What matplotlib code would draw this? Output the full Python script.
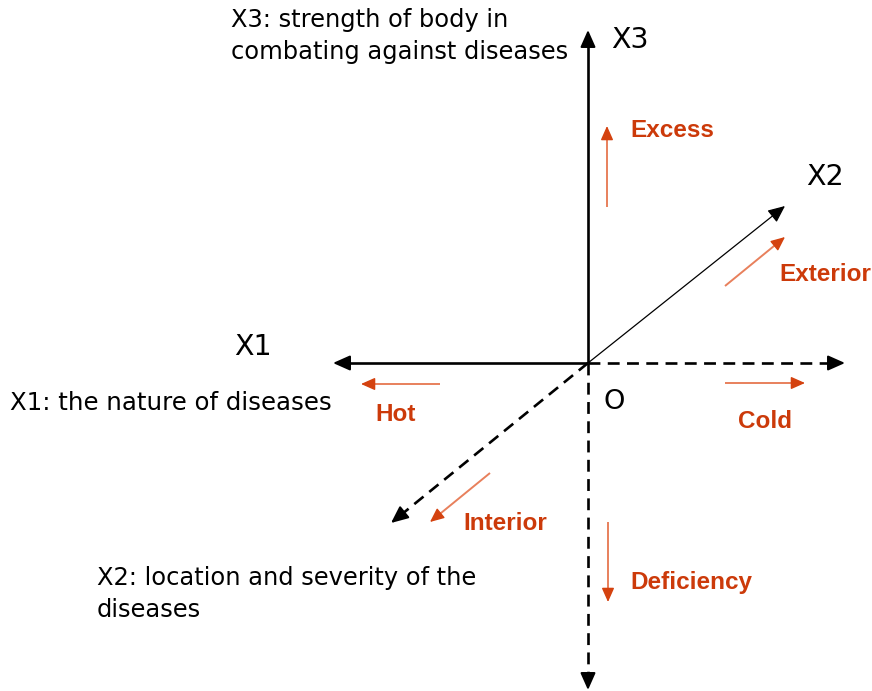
import matplotlib
matplotlib.use("Agg")
import matplotlib.pyplot as plt

plt.rcParams['font.family'] = ['DejaVu Sans']

# Diagram geometry (pixel space of the reference)
origin = (588, 363)
# black axes: (end point, dashed?, linewidth)
axis_ends = [(588, 30), (588, 690), (333, 363), (845, 363), (785, 206), (391, 523)]
axis_dashed = [False, True, False, True, False, True]
axis_lw = [1.9, 1.9, 1.9, 1.9, 0.9, 1.9]

# red direction arrows: start, end
red_starts = [(607, 207), (725, 286), (440, 384), (725, 383), (490, 473), (608, 522)]
red_ends = [(607, 126), (785, 237), (361, 384), (805, 383), (430, 522), (608, 602)]
red_labels = ["Excess", "Exterior", "Hot", "Cold", "Interior", "Deficiency"]
red_label_pos = [(630, 130), (779, 274), (375, 414), (738, 421), (463, 523), (630, 582)]

black_labels = ["X3: strength of body in\ncombating against diseases", "X3", "X1",
                "X1: the nature of diseases", "O", "X2",
                "X2: location and severity of the\ndiseases"]
black_label_pos = [(231, 8), (611, 26), (234, 333), (10, 391), (603, 389), (806, 163), (97, 566)]
black_label_size = [17.4, 20.5, 20.5, 17.6, 19.5, 20.5, 17.4]

fig = plt.figure(figsize=(8.72, 6.91), dpi=100)
ax = fig.add_axes([0, 0, 1, 1])
ax.set_xlim(0, 872)
ax.set_ylim(691, 0)
ax.axis('off')


def unit(p, q):
    dx, dy = q[0] - p[0], q[1] - p[1]
    L = (dx ** 2 + dy ** 2) ** 0.5
    return dx / L, dy / L


for (ex, ey), dashed, lw in zip(axis_ends, axis_dashed, axis_lw):
    ux, uy = unit(origin, (ex, ey))
    sx, sy = ex - ux * 7, ey - uy * 7
    ax.plot([origin[0], sx], [origin[1], sy], color='black', lw=lw,
            linestyle=(0, (4.5, 2.8)) if dashed else '-', solid_capstyle='butt',
            dash_capstyle='butt')
    bx, by = ex - ux * 12, ey - uy * 12
    ax.annotate('', xy=(ex, ey), xytext=(bx, by),
                arrowprops=dict(arrowstyle='-|>,head_length=0.9,head_width=0.4',
                                color='black', lw=min(lw, 1.5), shrinkA=0, shrinkB=0,
                                mutation_scale=11.5))

for (sx, sy), (ex, ey) in zip(red_starts, red_ends):
    ux, uy = unit((sx, sy), (ex, ey))
    ax.plot([sx, ex - ux * 6], [sy, ey - uy * 6], color='#E8805C', lw=1.4,
            solid_capstyle='butt')
    ax.annotate('', xy=(ex, ey), xytext=(ex - ux * 10, ey - uy * 10),
                arrowprops=dict(arrowstyle='-|>,head_length=0.9,head_width=0.4',
                                color='#D4420F', lw=1.0, shrinkA=0, shrinkB=0,
                                mutation_scale=9.5))

for txt, (x, y) in zip(red_labels, red_label_pos):
    ax.text(x, y, txt, color='#CC3A0A', fontsize=17.5, fontweight='bold',
            family=['Liberation Sans', 'DejaVu Sans'], ha='left', va='center')

for txt, (x, y), s in zip(black_labels, black_label_pos, black_label_size):
    ax.text(x, y, txt, color='black', fontsize=s, ha='left', va='top',
            linespacing=1.4)

fig.savefig('out.png', dpi=100)
